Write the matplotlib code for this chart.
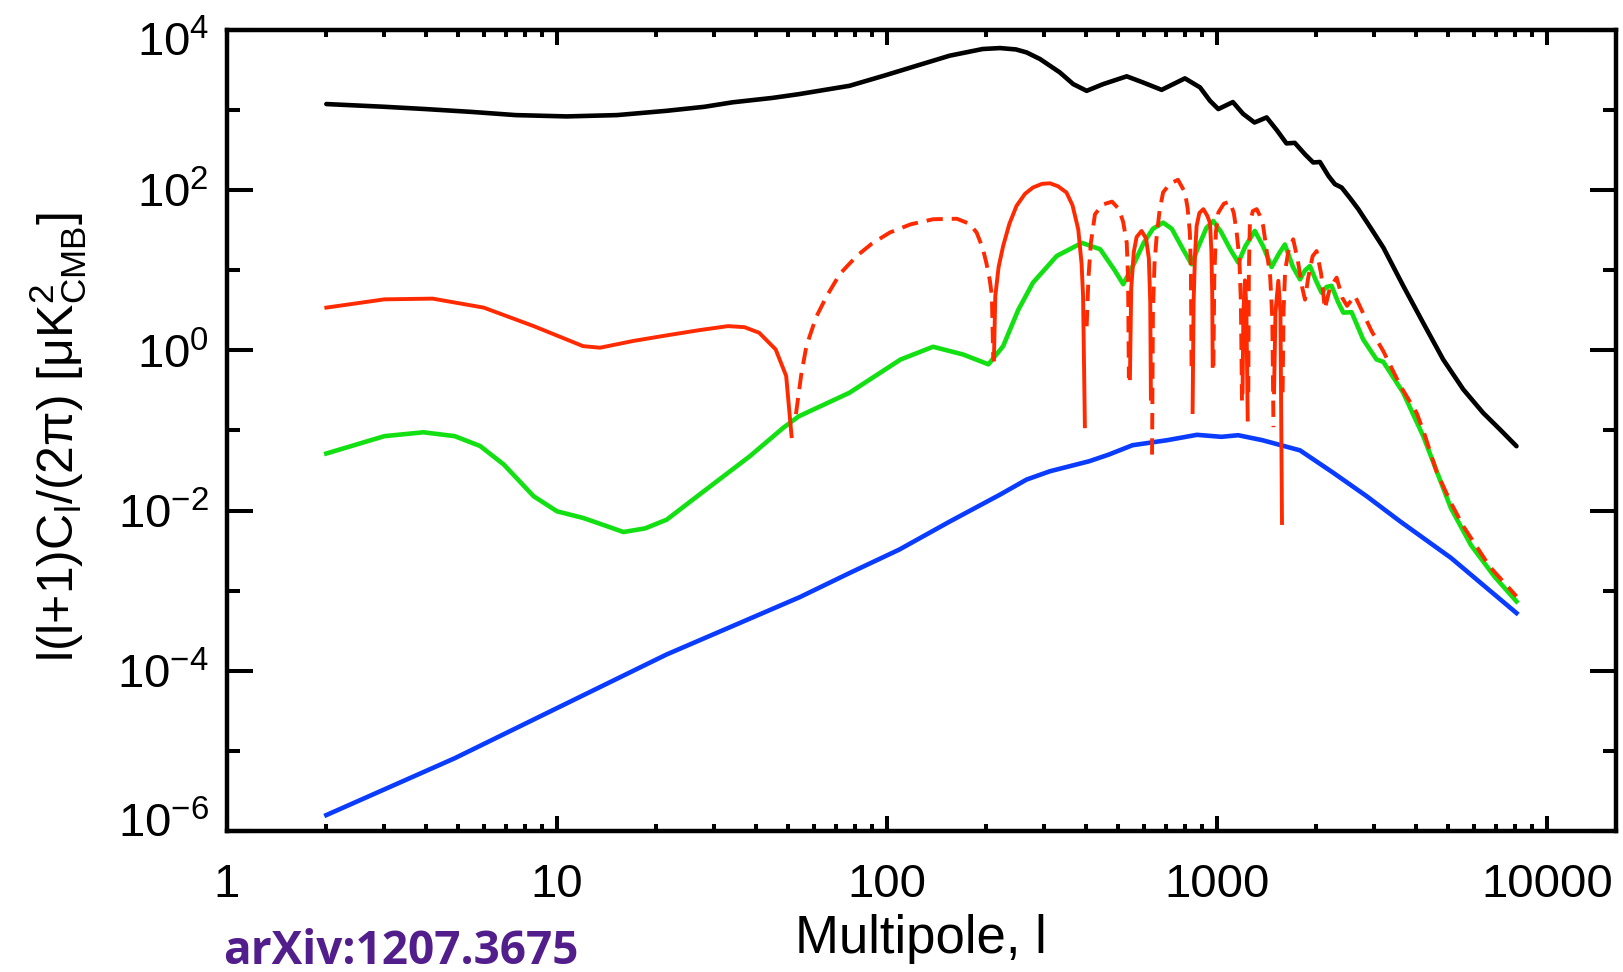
import matplotlib
matplotlib.use('Agg')
import matplotlib.pyplot as plt
from matplotlib.ticker import FixedLocator, FixedFormatter, NullFormatter
from matplotlib.transforms import ScaledTranslation
import numpy as np

plt.rcParams['font.family'] = ['Liberation Sans', 'DejaVu Sans']
plt.rcParams['mathtext.fontset'] = 'custom'
plt.rcParams['mathtext.rm'] = 'Liberation Sans'
plt.rcParams['mathtext.it'] = 'Liberation Sans:italic'
plt.rcParams['mathtext.bf'] = 'Liberation Sans:bold'

# ---------------- data ----------------
tt_l = [2, 3, 4, 5.5, 7.5, 10.7, 15.2, 21.5, 28, 34, 45, 54, 77, 98, 123, 155, 195, 220,
        246, 265, 291, 334, 367, 403, 452, 533, 596, 680, 800, 889, 953, 1010, 1118, 1200,
        1300, 1415, 1520, 1625, 1722, 1850, 1958, 2052, 2180, 2278, 2388, 2530, 2683, 2943,
        3195, 3670, 4220, 4850, 5580, 6410, 7210, 8090]
tt_v = [1190, 1100, 1030, 950, 866, 834, 866, 980, 1100, 1250, 1420, 1580, 2010, 2690, 3580,
        4780, 5790, 5950, 5720, 5250, 4340, 2960, 2110, 1740, 2110, 2640, 2220, 1790, 2490,
        1920, 1306, 1030, 1260, 900, 700, 810, 560, 384, 390, 280, 222, 225, 150, 119, 108,
        80, 58, 32.5, 19.2, 6.4, 2.2, 0.77, 0.326, 0.166, 0.103, 0.0637]

# TE: signed values (positive = solid, negative = dashed)
te_l = [2, 3, 4.2, 6, 8.5, 12, 13.5, 17, 21.5, 27, 33, 37, 41, 46, 49.5, 51.4,
        53, 55, 57, 61, 65.7, 72, 81, 90, 102, 118, 138, 163, 178, 187, 195, 200, 205, 208, 210,
        211, 213, 218, 225, 235, 247, 262, 277, 295, 312, 330, 350, 365, 380, 389, 393, 398,
        403, 408, 415, 427, 450, 481, 505, 520, 533, 538, 541,
        545, 550, 560, 571, 591, 610, 622, 628, 631,
        636, 640, 647, 656, 670, 687, 720, 762, 800, 815, 828, 834, 838,
        844, 850, 858, 868, 885, 910, 935, 953, 962, 968, 971,
        976, 982, 993, 1010, 1050, 1094, 1125, 1148, 1170, 1182, 1192,
        1196, 1203, 1216, 1228, 1240,
        1245, 1250, 1259, 1285, 1320, 1350, 1381, 1413, 1450, 1472, 1484,
        1490, 1505, 1535, 1558, 1575,
        1582, 1592, 1610, 1650, 1703, 1760, 1815, 1849, 1890, 1950, 2005, 2070, 2124, 2200,
        2306, 2400, 2480, 2620, 2943, 3193, 3600, 4030, 4240, 4630, 5120, 5580, 6710, 8090]
te_v = [3.42, 4.34, 4.43, 3.42, 2.01, 1.13, 1.08, 1.31, 1.54, 1.79, 2.01, 1.95, 1.66, 1.03, 0.48, 0.085,
        -0.16, -0.5, -1.13, -2.6, -4.77, -9, -15.1, -21.5, -29.6, -37.5, -43.4, -44, -38, -29.6, -19, -12.5, -7.5, -4.77, -0.77,
        0.77, 4.77, 11, 20.1, 38, 63.7, 90, 108, 120, 122, 112, 93.6, 65, 32.5, 12, 4.77, 0.113,
        -2.0, -8, -22, -50, -66, -72, -58, -40, -22, -8, -0.45,
        0.45, 6, 17, 26, 31, 25, 14, 4, 0.25,
        -0.05, -3, -12, -25, -55, -94, -120, -135, -94, -60, -29.6, -10, -0.5,
        0.17, 4, 15, 35.8, 52, 58, 48, 39, 18, 5, 0.64,
        -0.64, -8, -30, -52.6, -68, -72, -52, -29.6, -13.7, -4, -0.19,
        0.3, 3, 7.5, 3.5, 0.137,
        -0.3, -10, -39, -55, -58, -48, -35.8, -18.3, -8.4, -2.5, -0.11,
        0.3, 3, 7.4, 3, 0.007,
        -0.3, -3, -10, -18, -24.4, -13, -6, -4.3, -8, -15, -17.4, -9, -3.3, -6,
        -8.1, -4.5, -3.6, -4.8, -1.74, -0.98, -0.36, -0.166, -0.095, -0.0307, -0.0125, -0.0064, -0.0020, -0.00085]

ee_l = [2, 3, 3.94, 4.9, 5.85, 6.9, 8.5, 10, 12, 14, 15.9, 18.5, 21.5, 27, 38.4, 48.5, 54, 77,
        110, 138, 170, 203, 225, 250, 277, 327, 390, 443, 490, 520, 560, 600, 640, 687, 730,
        780, 838, 880, 930, 975, 1030, 1100, 1161, 1220, 1303, 1380, 1465, 1540, 1607, 1700,
        1786, 1850, 1914, 2000, 2076, 2150, 2226, 2330, 2416, 2560, 2775, 3046, 3193, 3670,
        4220, 5120, 5890, 6930, 8090]
ee_v = [0.0516, 0.085, 0.095, 0.085, 0.064, 0.0376, 0.0151, 0.0098, 0.0081, 0.0065, 0.0054,
        0.0060, 0.0077, 0.0158, 0.0477, 0.108, 0.15, 0.296, 0.77, 1.11, 0.89, 0.67, 1.13, 3.2,
        7.0, 15.1, 22, 18.3, 10, 6.7, 12, 22, 33, 39.4, 33, 20, 11.9, 20, 34, 41.3, 30, 18,
        12.5, 20, 31, 20, 11, 16, 21, 11, 7.7, 10, 11.3, 7.3, 5.26, 6.2, 6.4, 4, 2.96, 3.0,
        1.37, 0.77, 0.72, 0.296, 0.085, 0.0107, 0.0037, 0.00151, 0.000735]

bb_l = [2, 4.9, 10, 21.5, 54.4, 77, 109, 155, 220, 265, 312, 410, 470, 555, 707, 870, 1031,
        1160, 1373, 1786, 2254, 2845, 3589, 5120, 8090]
bb_v = [1.58e-6, 8.1e-6, 3.42e-5, 1.6e-4, 8.3e-4, 1.66e-3, 3.26e-3, 7.3e-3, 0.0158, 0.0244,
        0.031, 0.0413, 0.050, 0.0655, 0.0757, 0.0883, 0.0834, 0.0873, 0.0757, 0.0565, 0.0296,
        0.0151, 0.00735, 0.00257, 0.000526]

x_ticks = [1, 10, 100, 1000, 10000]
x_ticklabels = ['1', '10', '100', '1000', '10000']
y_ticks = [1e-6, 1e-4, 1e-2, 1e0, 1e2, 1e4]
y_ticklabels = [r'10$^{\mathregular{-6}}$', r'10$^{\mathregular{-4}}$', r'10$^{\mathregular{-2}}$',
                r'10$^{\mathregular{0}}$', r'10$^{\mathregular{2}}$', r'10$^{\mathregular{4}}$']
y_minor = [1e-5, 1e-3, 1e-1, 1e1, 1e3]

# ---------------- figure ----------------
W, H = 1624, 972
fig = plt.figure(figsize=(W / 100, H / 100), dpi=100)
ax = fig.add_axes([227 / W, 1 - 831 / H, (1616 - 227) / W, (831 - 30) / H])
ax.set_xscale('log')
ax.set_yscale('log')
ax.set_xlim(1, 16200)
ax.set_ylim(1e-6, 1e4)

red = '#ff2a00'
ax.plot(tt_l, tt_v, color='black', lw=3.3, solid_joinstyle='round', solid_capstyle='round')
ax.plot(ee_l, ee_v, color='#12e012', lw=3.3, solid_joinstyle='round')
ax.plot(bb_l, bb_v, color='#0a3cff', lw=3.3, solid_joinstyle='round')

# split TE into runs of constant sign
runs = []
cur_l, cur_v = [te_l[0]], [te_v[0]]
for a, b in zip(te_l[1:], te_v[1:]):
    if (b > 0) == (cur_v[-1] > 0):
        cur_l.append(a)
        cur_v.append(b)
    else:
        runs.append((cur_l, cur_v))
        cur_l, cur_v = [a], [b]
runs.append((cur_l, cur_v))
for rl, rv in runs:
    pos = rv[0] > 0
    ax.plot(rl, np.abs(rv), color=red, lw=2.8,
            ls='-' if pos else (0, (4.2, 2.3)), solid_joinstyle='round')

# ticks
ax.xaxis.set_major_locator(FixedLocator(x_ticks))
ax.xaxis.set_major_formatter(FixedFormatter(x_ticklabels))
ax.xaxis.set_minor_locator(FixedLocator([m * 10 ** d for d in range(0, 5) for m in range(2, 10)]))
ax.xaxis.set_minor_formatter(NullFormatter())
ax.yaxis.set_major_locator(FixedLocator(y_ticks))
ax.yaxis.set_major_formatter(FixedFormatter(y_ticklabels))
ax.yaxis.set_minor_locator(FixedLocator(y_minor))
ax.yaxis.set_minor_formatter(NullFormatter())

ax.tick_params(which='both', direction='in', top=True, right=True, width=2.9, color='black')
ax.tick_params(axis='x', which='major', length=10.8, pad=23, labelsize=34)
ax.tick_params(axis='x', which='minor', length=5)
ax.tick_params(axis='y', which='major', length=18.7, pad=13, labelsize=34)
ax.tick_params(axis='y', which='minor', length=9.4)
for s in ax.spines.values():
    s.set_linewidth(3.2)

# end labels of the y axis sit inside the axis range, as in the original
y_shift_px = {0: 11, 5: -9}
for i, t in enumerate(ax.yaxis.get_major_ticks()):
    if i in y_shift_px:
        t.label1.set_transform(t.label1.get_transform() +
                               ScaledTranslation(0, y_shift_px[i] / 100, fig.dpi_scale_trans))

fig.text(921 / W, 1 - 953 / H, 'Multipole, l', ha='center', va='baseline', fontsize=38)
fig.text(58 / W, 1 - 437 / H,
         r'l(l+1)C$_\mathregular{l}$/(2π) [μK$^\mathregular{2}_\mathregular{CMB}$]',
         rotation=90, ha='center', va='center', fontsize=36)
fig.text(223 / W, 1 - 964 / H, 'arXiv:1207.3675', ha='left', va='baseline',
         fontsize=33, fontweight='bold', family=['Open Sans', 'DejaVu Sans'], color='#521e8c')

fig.savefig('out.png', dpi=100)
